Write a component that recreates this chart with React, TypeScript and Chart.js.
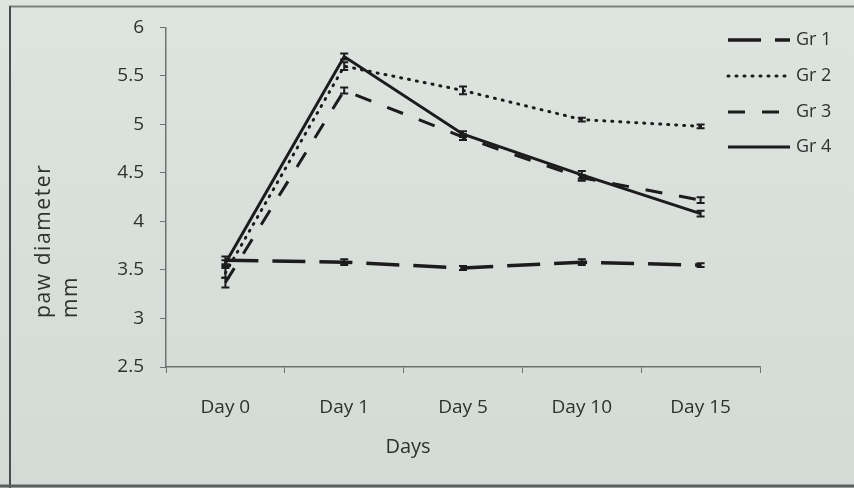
import React, { useEffect, useRef } from "react";
import { Chart, registerables } from "chart.js";

Chart.register(...registerables);

// Measurement days along the x axis
const days = ["Day 0", "Day 1", "Day 5", "Day 10", "Day 15"];

// Mean paw diameter (mm) per group
const gr1 = [3.6, 3.58, 3.52, 3.58, 3.55];
const gr2 = [3.47, 5.6, 5.35, 5.05, 4.98];
const gr3 = [3.37, 5.35, 4.87, 4.45, 4.22];
const gr4 = [3.57, 5.7, 4.9, 4.48, 4.08];

// Standard error per group
const gr1Err = [0.04, 0.03, 0.02, 0.03, 0.02];
const gr2Err = [0.05, 0.04, 0.04, 0.02, 0.02];
const gr3Err = [0.05, 0.03, 0.03, 0.03, 0.03];
const gr4Err = [0.03, 0.03, 0.03, 0.04, 0.03];

const groupLabels = ["Gr 1", "Gr 2", "Gr 3", "Gr 4"];

const INK = "#1c1c1c";
const TEXT = "#2f312f";
const AXIS = "#6e7270";
const FONT = "'Open Sans', 'Noto Sans', sans-serif";

// Error bars with caps, drawn from each dataset's `errors` array
const errorBarPlugin = {
  id: "errorBars",
  afterDatasetsDraw(chart: any) {
    const { ctx } = chart;
    const yScale = chart.scales.y;
    ctx.save();
    ctx.strokeStyle = INK;
    ctx.lineWidth = 2;
    ctx.setLineDash([]);
    chart.data.datasets.forEach((ds: any, i: number) => {
      const meta = chart.getDatasetMeta(i);
      meta.data.forEach((pt: any, j: number) => {
        const v = ds.data[j];
        const e = ds.errors[j];
        const yTop = yScale.getPixelForValue(v + e);
        const yBot = yScale.getPixelForValue(v - e);
        const x = pt.x;
        ctx.beginPath();
        ctx.moveTo(x, yTop);
        ctx.lineTo(x, yBot);
        ctx.moveTo(x - 4, yTop);
        ctx.lineTo(x + 4, yTop);
        ctx.moveTo(x - 4, yBot);
        ctx.lineTo(x + 4, yBot);
        ctx.stroke();
      });
    });
    ctx.restore();
  },
};

// Paper background, frame, legend and axis titles
const decorPlugin = {
  id: "decor",
  beforeDraw(chart: any) {
    const { ctx, width, height } = chart;
    ctx.save();
    const g = ctx.createLinearGradient(0, 0, 0, height);
    g.addColorStop(0, "#dee4e0");
    g.addColorStop(1, "#d3dbd6");
    ctx.fillStyle = g;
    ctx.fillRect(0, 0, width, height);

    ctx.strokeStyle = "#7c817e";
    ctx.lineWidth = 2;
    ctx.beginPath();
    ctx.moveTo(9, 6.5);
    ctx.lineTo(width, 6.5);
    ctx.stroke();

    ctx.strokeStyle = "#4a4d4b";
    ctx.lineWidth = 2;
    ctx.beginPath();
    ctx.moveTo(10, 6);
    ctx.lineTo(10, height);
    ctx.stroke();

    ctx.strokeStyle = "#5a5e5c";
    ctx.lineWidth = 3;
    ctx.beginPath();
    ctx.moveTo(0, 486);
    ctx.lineTo(width, 486);
    ctx.stroke();
    ctx.restore();
  },
  afterDraw(chart: any) {
    const { ctx } = chart;
    ctx.save();

    // Legend
    const rows = [40, 76, 112, 147];
    chart.data.datasets.forEach((ds: any, i: number) => {
      const y = rows[i];
      ctx.strokeStyle = INK;
      ctx.lineWidth = ds.borderWidth;
      ctx.lineCap = ds.borderCapStyle || "butt";
      ctx.setLineDash(ds.borderDash || []);
      ctx.beginPath();
      ctx.moveTo(728, y);
      ctx.lineTo(790, y);
      ctx.stroke();
      ctx.setLineDash([]);
      ctx.fillStyle = TEXT;
      ctx.font = `18px ${FONT}`;
      ctx.textAlign = "left";
      ctx.textBaseline = "middle";
      ctx.fillText(ds.label, 796, y);
    });

    // X axis title
    ctx.fillStyle = TEXT;
    ctx.font = `20px ${FONT}`;
    ctx.textAlign = "center";
    ctx.textBaseline = "middle";
    ctx.fillText("Days", 408, 447);

    // Y axis title, two lines aligned at the bottom end
    ctx.save();
    ctx.translate(44, 318);
    ctx.rotate(-Math.PI / 2);
    ctx.textAlign = "left";
    ctx.textBaseline = "middle";
    ctx.font = `21px ${FONT}`;
    (ctx as any).letterSpacing = "1.6px";
    ctx.fillText("paw diameter", 0, 0);
    ctx.fillText("mm", 0, 27);
    ctx.restore();

    ctx.restore();
  },
};

export default function App() {
  const canvasRef = useRef<HTMLCanvasElement | null>(null);

  useEffect(() => {
    if (!canvasRef.current) return;
    const chart = new Chart(canvasRef.current, {
      type: "line",
      data: {
        labels: days,
        datasets: [
          {
            label: groupLabels[0],
            data: gr1,
            errors: gr1Err,
            borderColor: INK,
            borderWidth: 3.5,
            borderDash: [33, 14],
            pointRadius: 0,
            tension: 0,
          },
          {
            label: groupLabels[1],
            data: gr2,
            errors: gr2Err,
            borderColor: INK,
            borderWidth: 3,
            borderDash: [1, 7],
            borderCapStyle: "round",
            pointRadius: 0,
            tension: 0,
          },
          {
            label: groupLabels[2],
            data: gr3,
            errors: gr3Err,
            borderColor: INK,
            borderWidth: 3,
            borderDash: [17, 17],
            pointRadius: 0,
            tension: 0,
          },
          {
            label: groupLabels[3],
            data: gr4,
            errors: gr4Err,
            borderColor: INK,
            borderWidth: 3,
            pointRadius: 0,
            tension: 0,
          },
        ] as any,
      },
      options: {
        responsive: false,
        animation: false,
        layout: { padding: { top: 23, right: 94, left: 0, bottom: 0 } },
        plugins: {
          legend: { display: false },
          tooltip: { enabled: false },
        },
        scales: {
          x: {
            type: "category",
            offset: true,
            grid: {
              offset: true,
              drawOnChartArea: false,
              drawTicks: true,
              tickLength: 6,
              color: AXIS,
            },
            border: { display: true, color: AXIS, width: 1.5 },
            ticks: {
              color: TEXT,
              font: { family: FONT, size: 19 },
              padding: 23,
              maxRotation: 0,
            },
            afterFit: (scale: any) => {
              scale.height = 121;
            },
          },
          y: {
            type: "linear",
            min: 2.5,
            max: 6,
            ticks: {
              stepSize: 0.5,
              color: TEXT,
              font: { family: FONT, size: 19 },
              padding: 16,
              callback: (value: any) => String(Number(value)),
            },
            grid: {
              drawOnChartArea: false,
              drawTicks: true,
              tickLength: 6,
              color: AXIS,
            },
            border: { display: true, color: AXIS, width: 1.5 },
            afterFit: (scale: any) => {
              scale.width = 166;
            },
          },
        },
      },
      plugins: [decorPlugin, errorBarPlugin],
    } as any);
    return () => chart.destroy();
  }, []);

  return (
    <div style={{ position: "fixed", left: 0, top: 0, width: 854, height: 488 }}>
      <canvas ref={canvasRef} width={854} height={488} />
    </div>
  );
}
